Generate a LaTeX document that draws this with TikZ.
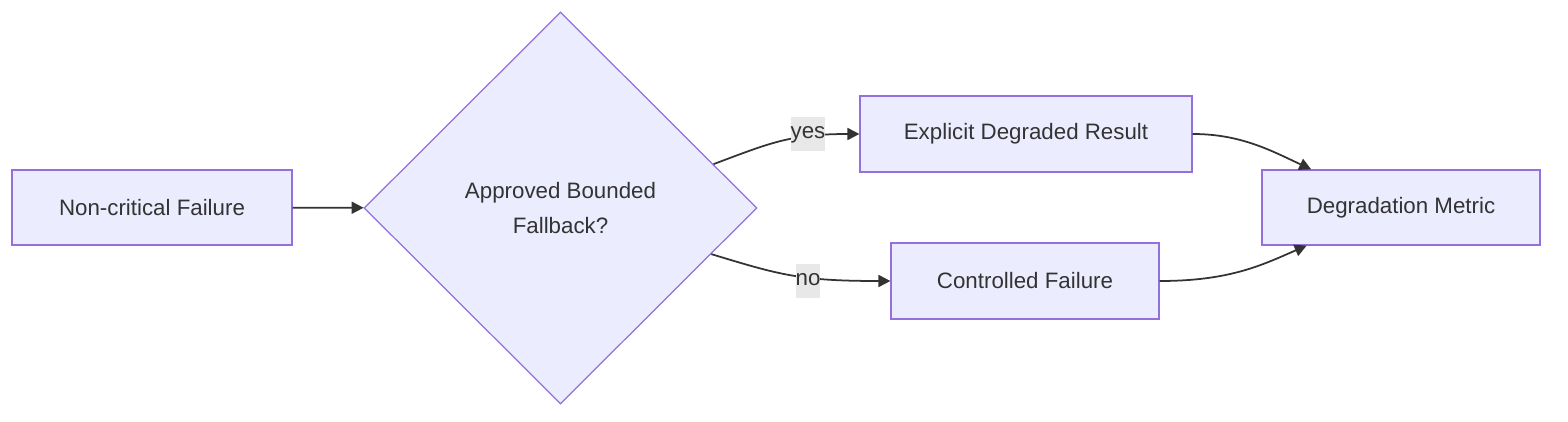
\documentclass[tikz,border=0pt]{standalone}
\usepackage{fontspec}
\setmainfont{Liberation Sans}
\usetikzlibrary{arrows.meta,shapes.geometric}
\definecolor{boxfill}{HTML}{ECECFF}
\definecolor{boxline}{HTML}{9370DB}
\definecolor{ink}{HTML}{333333}
\definecolor{lblfill}{HTML}{E8E8E8}
\tikzset{
	box/.style={draw=boxline, fill=boxfill, line width=0.7pt, text=ink, inner sep=0pt, minimum height=1.5cm},
	choice/.style={box, diamond, aspect=1, minimum width=7.86cm, minimum height=7.84cm, align=center},
	flow/.style={draw=ink, line width=1pt, -{Triangle[length=0.24cm, width=0.24cm]}},
	lbl/.style={fill=lblfill, text=ink, inner sep=0pt, minimum height=0.68cm}
}

\begin{document}
\begin{tikzpicture}[x=0.02cm, y=-0.02cm, font=\fontsize{12.7}{20.4}\selectfont]
		%%%%% START %%%%%
		\useasboundingbox (0, 0) rectangle (1568, 422);
		
		\node[box, minimum width=5.6cm] (fail) at (152, 207.5) {Non-critical Failure};
		\node[choice] (dia) at (560.5, 208) {Approved Bounded\\Fallback?};
		\node[box, minimum width=6.64cm, minimum height=1.52cm] (expl) at (1026, 134) {Explicit Degraded Result};
		\node[box, minimum width=5.36cm, minimum height=1.52cm] (ctrl) at (1025, 281) {Controlled Failure};
		\node[box, minimum width=5.56cm] (metric) at (1401, 207.5) {Degradation Metric};
		
		\draw[flow] (fail) -- (dia);
		\draw[flow] (dia.16.5) .. controls (770, 143) and (790, 134) .. (expl.west);
		\draw[flow] (dia.-17.2) .. controls (780, 275) and (800, 281) .. (ctrl.west);
		\draw[flow] (expl.east) .. controls (1240, 134) and (1270, 150) .. (metric.157.6);
		\draw[flow] (ctrl.east) .. controls (1230, 281) and (1262, 265) .. (metric.202.4);
		
		\node[lbl, minimum width=0.64cm, text depth=0.05cm] (yes) at (808, 134) {yes};
		\node[lbl, minimum width=0.48cm, text depth=0.05cm] (no) at (808, 281) {no};
		%%%%% END %%%%%
	\end{tikzpicture}
\end{document}
